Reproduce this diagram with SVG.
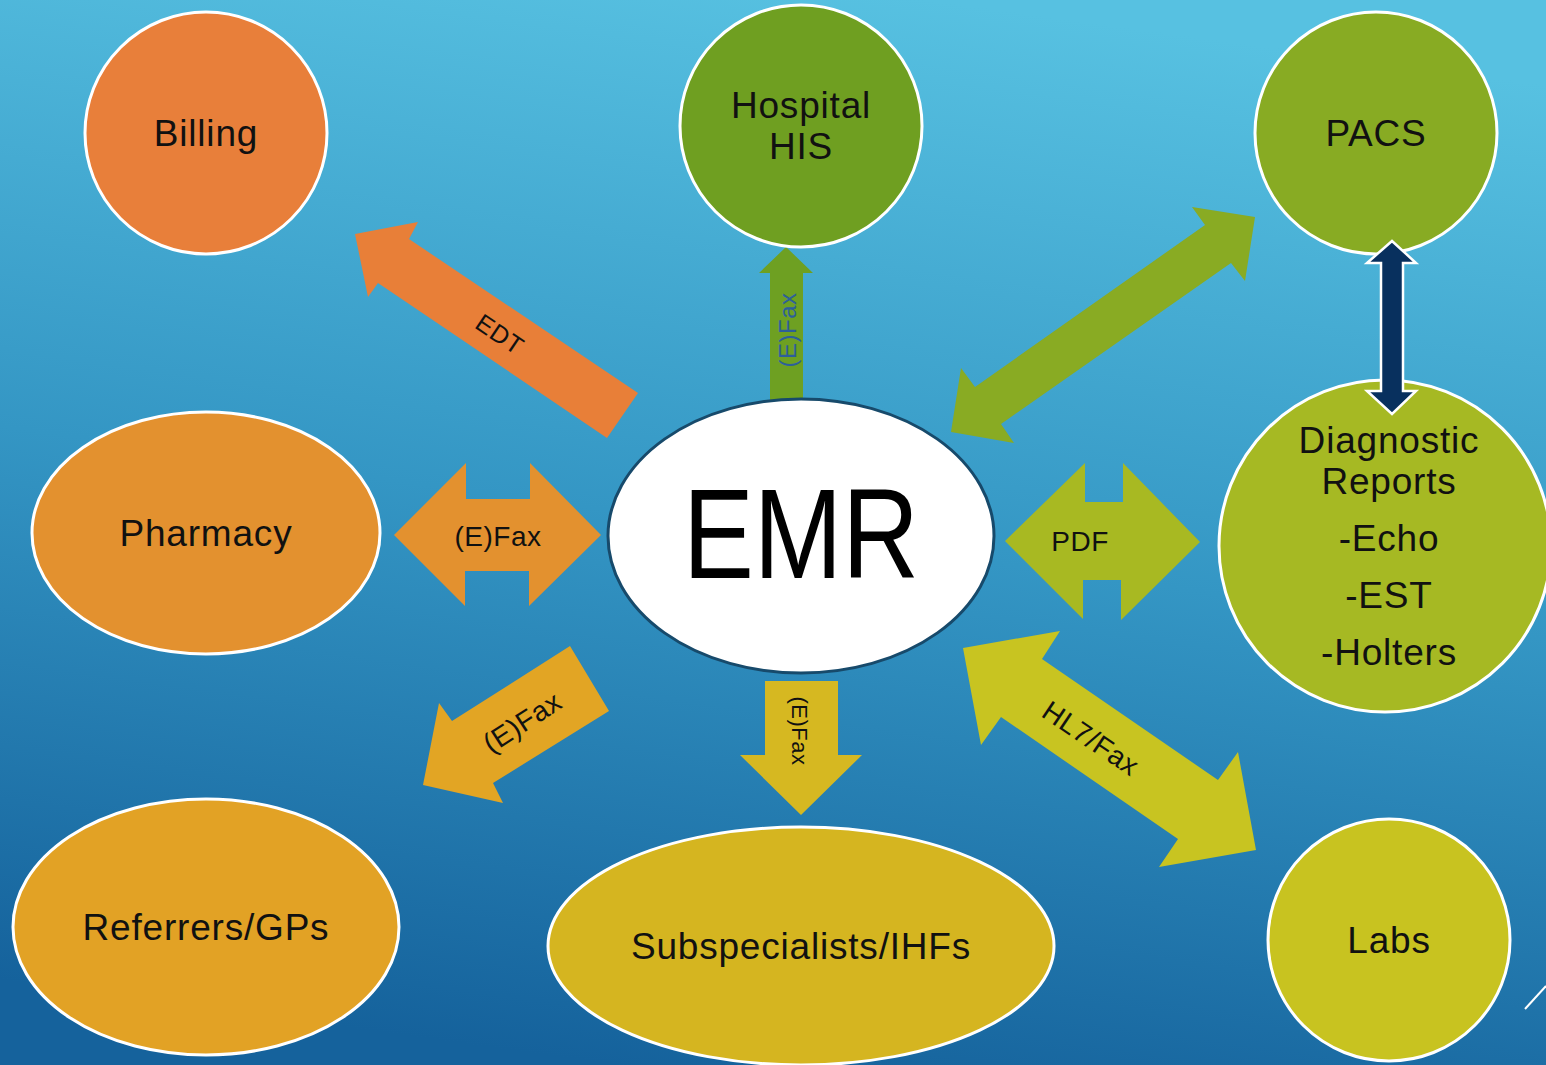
<svg xmlns="http://www.w3.org/2000/svg" width="1546" height="1065" viewBox="0 0 1546 1065">
<defs>
<linearGradient id="bg" x1="0.6" y1="0" x2="0.4" y2="1">
<stop offset="0" stop-color="#57c1e1"/>
<stop offset="0.5" stop-color="#3496c4"/>
<stop offset="1" stop-color="#15629c"/>
</linearGradient>
<style>
.node{stroke:#ffffff;stroke-width:3}
.lbl{font-family:"Liberation Sans",Arial,sans-serif;font-size:37px;letter-spacing:0.8px;fill:#111;text-anchor:middle}
.al{font-family:"Liberation Sans",Arial,sans-serif;font-size:28px;letter-spacing:0.5px;fill:#111;text-anchor:middle}
</style>
</defs>
<rect width="1546" height="1065" fill="url(#bg)"/>
<line x1="1525" y1="1009" x2="1546" y2="986" stroke="#fff" stroke-width="2"/>

<g id="connectors">
<polygon points="355,234 418,222 409,239 638,393 607,438 378,283 368,297" fill="#e87f38"/>
<text class="al" style="font-size:25px" transform="translate(500,334) rotate(34)" y="9">EDT</text>
<polygon points="770,400 770,273 759,273 786,247 813,273 803,273 803,400" fill="#6ea022"/>
<text class="al" style="font-size:24px;fill:#2d5f9a" transform="translate(788,330) rotate(-90)" y="8">(E)Fax</text>
<polygon points="1255,217 1192,207 1205,225 975,387 961,368 951,432 1014,443 1001,424 1231,263 1245,281" fill="#89ab23"/>
<polygon points="394,535 466,463 466,499 530,499 530,463 601,535 529,606 529,571 465,571 465,606" fill="#e3912f"/>
<text class="al" x="498" y="546">(E)Fax</text>
<polygon points="1005,541 1085,463 1085,502 1123,502 1123,463 1200,542 1121,620 1121,580 1083,580 1083,619" fill="#a8b922"/>
<text class="al" x="1080" y="551">PDF</text>
<polygon points="423,785 439,703 452,721 570,646 609,711 493,783 503,803" fill="#e2a524"/>
<text class="al" transform="translate(522,722) rotate(-33)" y="10">(E)Fax</text>
<polygon points="765,681 838,681 838,755 862,755 801,815 740,755 765,755" fill="#d6b821"/>
<text class="al" style="font-size:22px" transform="translate(800,731) rotate(90)" y="8">(E)Fax</text>
<polygon points="963,648 1060,631 1042,659 1218,780 1238,752 1256,850 1159,867 1178,839 1001,717 981,745" fill="#c8c421"/>
<text class="al" transform="translate(1091,738) rotate(34)" y="10">HL7/Fax</text>
</g>

<g id="billing"><circle class="node" cx="206" cy="133" r="121" fill="#e87f3a"/><text class="lbl" x="206" y="146">Billing</text></g>
<g id="hospital-his"><circle class="node" cx="801" cy="126" r="121" fill="#6f9f21"/><text class="lbl" x="801" y="118">Hospital</text><text class="lbl" x="801" y="159">HIS</text></g>
<g id="pacs"><circle class="node" cx="1376" cy="133" r="121" fill="#88ab23"/><text class="lbl" x="1376" y="146">PACS</text></g>
<g id="diagnostic-reports"><circle class="node" cx="1385" cy="546" r="166" fill="#a6b923"/>
<text class="lbl" x="1389" y="453">Diagnostic</text><text class="lbl" x="1389" y="494">Reports</text><text class="lbl" x="1389" y="551">-Echo</text><text class="lbl" x="1389" y="608">-EST</text><text class="lbl" x="1389" y="665">-Holters</text></g>
<g id="pacs-diag-arrow"><polygon points="1392,241 1416,263 1403,263 1403,391 1416,391 1392,414 1367,391 1381,391 1381,263 1367,263" fill="#08305e" stroke="#fff" stroke-width="2.5"/></g>
<g id="pharmacy"><ellipse class="node" cx="206" cy="533" rx="174" ry="121" fill="#e3912f"/><text class="lbl" x="206" y="546">Pharmacy</text></g>
<g id="emr"><ellipse cx="801" cy="536" rx="193" ry="137" fill="#ffffff" stroke="#174a6b" stroke-width="3"/><text x="801" y="578" text-anchor="middle" font-family="Liberation Sans, Arial, sans-serif" font-size="128" fill="#000" textLength="236" lengthAdjust="spacingAndGlyphs">EMR</text></g>
<g id="referrers"><ellipse class="node" cx="206" cy="927" rx="193" ry="128" fill="#e2a225"/><text class="lbl" x="206" y="940">Referrers/GPs</text></g>
<g id="subspecialists"><ellipse class="node" cx="801" cy="946" rx="253" ry="119" fill="#d5b520"/><text class="lbl" x="801" y="959">Subspecialists/IHFs</text></g>
<g id="labs"><circle class="node" cx="1389" cy="940" r="121" fill="#c8c320"/><text class="lbl" x="1389" y="953">Labs</text></g>
</svg>
